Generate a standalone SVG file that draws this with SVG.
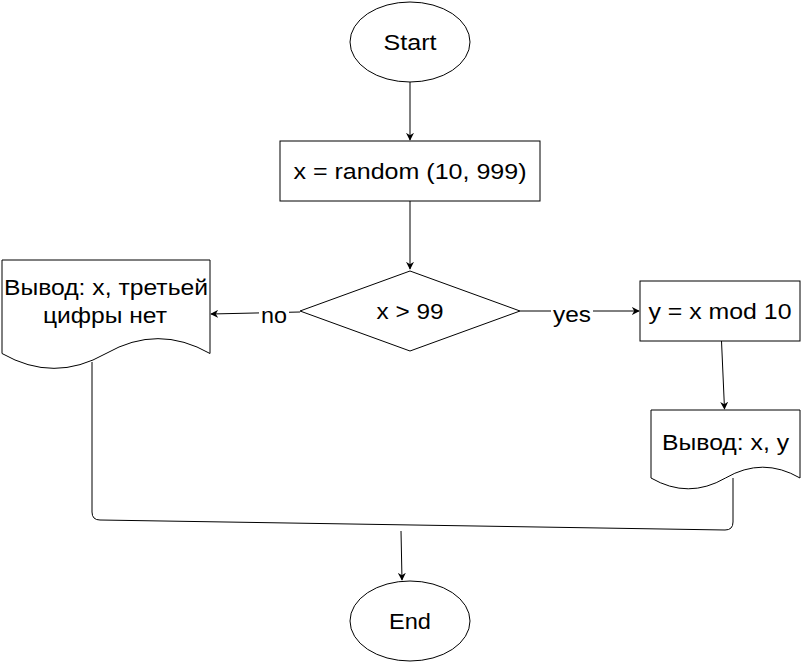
<svg xmlns="http://www.w3.org/2000/svg" width="802" height="662" viewBox="0 0 802 662">
  <style>
    .shape { fill: #ffffff; stroke: #000000; stroke-width: 1; }
    .edge { fill: none; stroke: #000000; stroke-width: 1; }
    .label { font-family: "Liberation Sans", Arial, sans-serif; font-size: 22px; fill: #000000; text-anchor: middle; }
  </style>
  <defs>
    <marker id="arrow" viewBox="0 0 10 10" refX="9" refY="5" markerWidth="8" markerHeight="8" markerUnits="userSpaceOnUse" orient="auto">
      <path d="M0,0 L10,5 L0,10 L3,5 Z" fill="#000000"/>
    </marker>
  </defs>

  <!-- connectors -->
  <g id="connectors">
    <path class="edge" d="M410,82 L410,140" marker-end="url(#arrow)"/>
    <path class="edge" d="M410,201 L410,269" marker-end="url(#arrow)"/>
    <path class="edge" d="M300,312 L211,314" marker-end="url(#arrow)"/>
    <path class="edge" d="M520,311 L639,311" marker-end="url(#arrow)"/>
    <path class="edge" d="M721.5,341 L724.5,409" marker-end="url(#arrow)"/>
    <path class="edge" d="M92,362 L92,512 Q92,520 100,520 L725,530 Q733,530 733,522 L733,478"/>
    <path class="edge" d="M401,531 L402,580" marker-end="url(#arrow)"/>
    <rect x="259" y="304" width="30" height="20" fill="#ffffff"/>
    <text class="label" x="274" y="323" textLength="26" lengthAdjust="spacingAndGlyphs">no</text>
    <rect x="551" y="304" width="42" height="20" fill="#ffffff"/>
    <text class="label" x="572" y="322" textLength="38" lengthAdjust="spacingAndGlyphs">yes</text>
  </g>

  <g id="start">
    <ellipse class="shape" cx="410" cy="42" rx="60" ry="40"/>
    <text class="label" x="410" y="50" textLength="53" lengthAdjust="spacingAndGlyphs">Start</text>
  </g>

  <g id="random">
    <rect class="shape" x="280" y="141" width="260" height="60"/>
    <text class="label" x="410" y="179" textLength="233" lengthAdjust="spacingAndGlyphs">x = random (10, 999)</text>
  </g>

  <g id="check">
    <path class="shape" d="M410,271 L520,311 L410,351 L300,311 Z"/>
    <text class="label" x="410" y="319" textLength="67" lengthAdjust="spacingAndGlyphs">x &gt; 99</text>
  </g>

  <g id="output-no">
    <path class="shape" d="M2,260 L210,260 L210,353.5 Q158,323.8 106,353.5 Q54,383.2 2,353.5 Z"/>
    <text class="label" x="106" y="295" textLength="204" lengthAdjust="spacingAndGlyphs">Вывод: x, третьей</text>
    <text class="label" x="105" y="323" textLength="124" lengthAdjust="spacingAndGlyphs">цифры нет</text>
  </g>

  <g id="mod">
    <rect class="shape" x="640" y="281" width="160" height="60"/>
    <text class="label" x="720" y="319" textLength="143" lengthAdjust="spacingAndGlyphs">y = x mod 10</text>
  </g>

  <g id="output-yes">
    <path class="shape" d="M651,410 L800,410 L800,478 Q762.75,456.4 725.5,478 Q688.25,499.6 651,478 Z"/>
    <text class="label" x="725.5" y="450" textLength="127" lengthAdjust="spacingAndGlyphs">Вывод: x, y</text>
  </g>

  <g id="end">
    <ellipse class="shape" cx="410" cy="621" rx="60" ry="40"/>
    <text class="label" x="410" y="629" textLength="42" lengthAdjust="spacingAndGlyphs">End</text>
  </g>
</svg>
